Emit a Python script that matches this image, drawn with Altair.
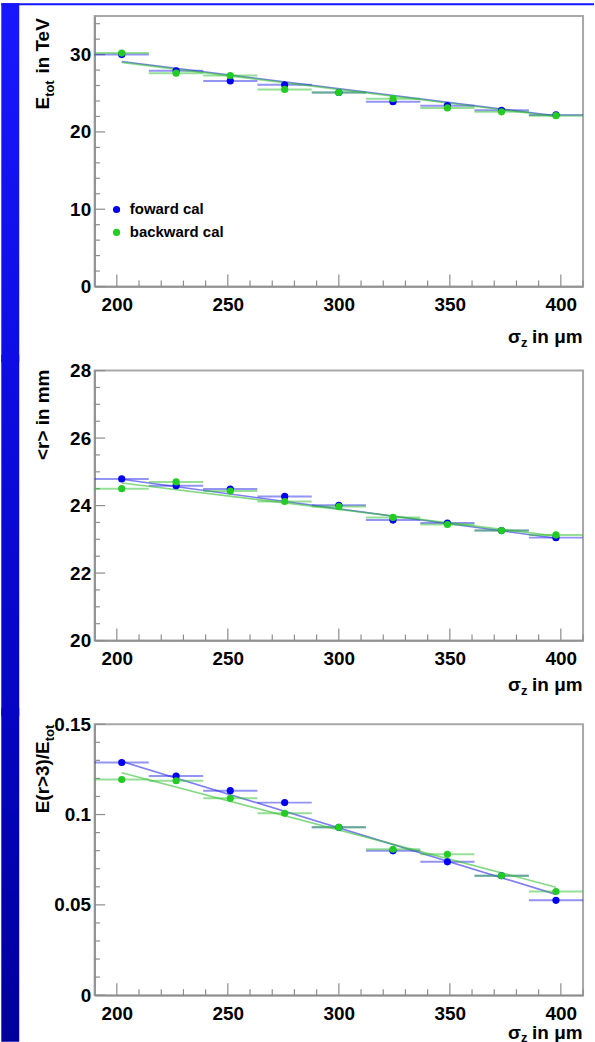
import altair as alt
import pandas as pd

FONT = "Liberation Sans"

# ---------------- data ----------------
sigma_centers = [202.2, 226.7, 251.1, 275.6, 300.0, 324.4, 348.9, 373.3, 397.8]
bin_lo = [190.0, 214.4, 238.9, 263.3, 287.8, 312.2, 336.7, 361.1, 385.6]
bin_hi = [214.4, 238.9, 263.3, 287.8, 312.2, 336.7, 361.1, 385.6, 410.0]

etot_fwd = [30.0, 27.9, 26.6, 26.1, 25.1, 23.9, 23.4, 22.8, 22.2]
etot_bwd = [30.2, 27.6, 27.3, 25.5, 25.1, 24.3, 23.1, 22.6, 22.1]
etot_err = [0.25, 0.25, 0.25, 0.25, 0.25, 0.25, 0.25, 0.25, 0.25]

r_fwd = [24.79, 24.59, 24.49, 24.27, 24.01, 23.57, 23.48, 23.26, 23.05]
r_bwd = [24.50, 24.70, 24.43, 24.12, 23.97, 23.65, 23.44, 23.26, 23.13]
r_err = [0.05, 0.05, 0.05, 0.05, 0.05, 0.05, 0.05, 0.05, 0.05]

frac_fwd = [0.1288, 0.1213, 0.1132, 0.1066, 0.0929, 0.0799, 0.0738, 0.0661, 0.0525]
frac_bwd = [0.1194, 0.1187, 0.1090, 0.1007, 0.0929, 0.0808, 0.0780, 0.0661, 0.0574]
frac_err = [0.0018, 0.0018, 0.0018, 0.0018, 0.0018, 0.0018, 0.0018, 0.0018, 0.0018]

fit_x = [202.2, 397.8]
etot_fit_fwd = [29.1, 22.1]
etot_fit_bwd = [29.0, 22.0]
r_fit_fwd = [24.78, 23.03]
r_fit_bwd = [24.67, 23.10]
frac_fit_fwd = [0.1294, 0.0558]
frac_fit_bwd = [0.1231, 0.0598]

x_major = [200, 250, 300, 350, 400]
x_minor = [210, 220, 230, 240, 260, 270, 280, 290, 310, 320, 330, 340, 360, 370, 380, 390, 410]

# ---------------- layout (pixels) ----------------
LEFT = 93.7          # page x of plot left edge
W = 490.3            # plot width
PAGE_W = 595
STRIP_W = 18
GAP = 84             # distance between plot areas
H1, H2, H3 = 271.6, 271.0, 272.0
T1 = 12.7
T2 = T1 + H1 + GAP
T3 = T2 + H2 + GAP

BLUE = "#0000ee"
GREEN = "#22cc22"
BLUE_L = "#2a2ae8"
GREEN_L = "#30c030"

one = pd.DataFrame({"k": [0]})


def hex2rgb(h):
    h = h.lstrip("#")
    return [int(h[i:i + 2], 16) for i in (0, 2, 4)]


GRAD = [(0.0, "#1818ff"), (0.5, "#0808d8"), (1.0, "#00009c")]


def grad_color(t):
    t = max(0.0, min(1.0, t))
    for (t0, c0), (t1, c1) in zip(GRAD[:-1], GRAD[1:]):
        if t <= t1:
            f = (t - t0) / (t1 - t0)
            a, b = hex2rgb(c0), hex2rgb(c1)
            return "#%02x%02x%02x" % tuple(round(a[i] + (b[i] - a[i]) * f) for i in range(3))
    return GRAD[-1][1]


def text(s, x, y, size=19, angle=0, align="left", baseline="alphabetic"):
    return alt.Chart(one).mark_text(
        text=s, angle=angle, align=align, baseline=baseline, font=FONT,
        fontSize=size, fontWeight="bold", color="black"
    ).encode(x=alt.value(x), y=alt.value(y))


def panel(fwd, bwd, err, fit_f, fit_b, ydom, ymajor, yminor, ymajor_len, H,
          top_page, band_top_page, band_bot_page, ytitle, xtitle_base, sub_off=4, first=False):
    xs = alt.Scale(domain=[190, 410], nice=False, zero=False)
    ys = alt.Scale(domain=ydom, nice=False, zero=False)
    xaxis = alt.Axis(values=x_major, title=None, ticks=False, grid=False, labelFont=FONT,
                     labelFontSize=19, labelFontWeight="bold", labelColor="black",
                     labelPadding=9, domainColor="#8c8c8c", domainWidth=1.5,
                     labelFlush=False, labelOverlap=False)
    yaxis = alt.Axis(values=ymajor, labelExpr="datum.value + ''", title=None, ticks=False,
                     grid=False, labelFont=FONT, labelFontSize=19, labelFontWeight="bold",
                     labelColor="black", labelPadding=4, domainColor="#8c8c8c",
                     domainWidth=1.5, labelFlush=False, labelOverlap=False)

    def X(f):
        return alt.X(f, type="quantitative", scale=xs, axis=xaxis)

    def Y(f):
        return alt.Y(f, type="quantitative", scale=ys, axis=yaxis)

    def series_df(vals):
        return pd.DataFrame({
            "x": sigma_centers, "lo": bin_lo, "hi": bin_hi, "v": vals,
            "elo": [v - e for v, e in zip(vals, err)],
            "ehi": [v + e for v, e in zip(vals, err)],
        })

    df_f, df_b = series_df(fwd), series_df(bwd)
    fit_df_f = pd.DataFrame({"x": fit_x, "v": fit_f})
    fit_df_b = pd.DataFrame({"x": fit_x, "v": fit_b})

    layers = []
    # blue slide strip (piece belonging to this panel's band)
    y0 = band_top_page - top_page
    y1 = band_bot_page - top_page
    grad = alt.LinearGradient(
        gradient="linear", x1=0, x2=0, y1=0, y2=1,
        stops=[alt.GradientStop(color=grad_color(band_top_page / 1042), offset=0),
               alt.GradientStop(color=grad_color(band_bot_page / 1042), offset=1)])
    layers.append(alt.Chart(one).mark_rect(color=grad).encode(
        x=alt.value(-LEFT), x2=alt.value(-LEFT + STRIP_W), y=alt.value(y0), y2=alt.value(y1)))
    if first:
        layers.append(alt.Chart(one).mark_rect(color="#1414ff").encode(
            x=alt.value(-LEFT), x2=alt.value(PAGE_W - LEFT), y=alt.value(y0), y2=alt.value(y0 + 2)))

    # inward ticks
    tick_col = "#8c8c8c"
    layers.append(alt.Chart(pd.DataFrame({"x": x_major})).mark_rule(color=tick_col, strokeWidth=1.2).encode(
        x=X("x"), y=alt.value(H), y2=alt.value(H - 12)))
    layers.append(alt.Chart(pd.DataFrame({"x": x_minor})).mark_rule(color=tick_col, strokeWidth=1.2).encode(
        x=X("x"), y=alt.value(H), y2=alt.value(H - 6)))
    layers.append(alt.Chart(pd.DataFrame({"y": ymajor})).mark_rule(color=tick_col, strokeWidth=1.2).encode(
        y=Y("y"), x=alt.value(0), x2=alt.value(ymajor_len)))
    layers.append(alt.Chart(pd.DataFrame({"y": yminor})).mark_rule(color=tick_col, strokeWidth=1.2).encode(
        y=Y("y"), x=alt.value(0), x2=alt.value(ymajor_len / 2)))

    # histogram-style bars, errors, fits
    for df, fdf, col in ((df_f, fit_df_f, BLUE_L), (df_b, fit_df_b, GREEN_L)):
        layers.append(alt.Chart(df).mark_rule(color=col, opacity=0.5, strokeWidth=2).encode(
            x=X("lo"), x2="hi", y=Y("v")))
        layers.append(alt.Chart(df).mark_rule(color=col, opacity=0.6, strokeWidth=1.5).encode(
            x=X("x"), y=Y("elo"), y2="ehi"))
        layers.append(alt.Chart(fdf).mark_line(color=col, opacity=0.6, strokeWidth=1.6).encode(
            x=X("x"), y=Y("v")))

    layers.append(alt.Chart(df_f).mark_circle(color=BLUE, size=52, opacity=1).encode(x=X("x"), y=Y("v")))
    layers.append(alt.Chart(df_b).mark_circle(color=GREEN, size=52, opacity=1).encode(x=X("x"), y=Y("v")))

    # x title: sigma_z in um (right aligned)
    layers.append(text("in \u03bcm", W - 0.5, xtitle_base, align="right"))
    layers.append(text("z", W - 0.5 - 50.0 - 5.3, xtitle_base + sub_off, size=13, align="right"))
    layers.append(text("\u03c3", W - 0.5 - 50.0 - 5.3 - 6.5, xtitle_base, align="right"))

    layers.extend(ytitle)
    return alt.layer(*layers).properties(width=W, height=H)


XB = -45.7   # y-title baseline (local x)
XS = -41.2   # subscript baseline

# panel 1 title: E_tot in TeV
t1_top = 15 - T1
ytitle1 = [
    text("in TeV", XB, t1_top, angle=270, align="right"),
    text("tot", XS, t1_top + 62.3, size=13, angle=270, align="right"),
    text("E", XB, t1_top + 62.3 + 16.6, angle=270, align="right"),
]
legend1 = [
    alt.Chart(one).mark_circle(color=BLUE, size=52, opacity=1).encode(x=alt.value(22), y=alt.value(194.3)),
    alt.Chart(one).mark_circle(color=GREEN, size=52, opacity=1).encode(x=alt.value(22), y=alt.value(217.3)),
    text("foward cal", 35.3, 194.3, size=15, baseline="middle"),
    text("backward cal", 35.3, 217.3, size=15, baseline="middle"),
]

ytitle2 = [text("<r> in mm", XB, -1, angle=270, align="right")]

ytitle3 = [
    text("tot", XS, 0.5, size=13, angle=270, align="right"),
    text("E(r>3)/E", XB, 0.5 + 16.6, angle=270, align="right"),
]

p1 = panel(etot_fwd, etot_bwd, etot_err, etot_fit_fwd, etot_fit_bwd, [0, 35],
           [0, 10, 20, 30], [v for v in range(2, 35, 2) if v % 10 != 0], 10.6, H1,
           T1, 0, T2 - 8, ytitle1 + legend1, 328.3, first=True)
p2 = panel(r_fwd, r_bwd, r_err, r_fit_fwd, r_fit_bwd, [20, 28],
           [20, 22, 24, 26, 28], [20 + 0.5 * i for i in range(1, 16) if i % 4 != 0], 10.6, H2,
           T2, T2 - 16, T3 - 8, ytitle2, 321.7)
p3 = panel(frac_fwd, frac_bwd, frac_err, frac_fit_fwd, frac_fit_bwd, [0, 0.15],
           [0, 0.05, 0.1, 0.15], [round(0.01 * i, 2) for i in range(1, 15) if i % 5 != 0], 10.6, H3,
           T3, T3 - 16, 1042, ytitle3, 1039 - T3, sub_off=3)

chart = alt.vconcat(p1, p2, p3, spacing=GAP, bounds="flush").properties(
    padding=0, background="white"
).configure_view(stroke="#a8a8a8", strokeWidth=2)

chart.save("out.html", embed_options={"renderer": "svg", "actions": False})
